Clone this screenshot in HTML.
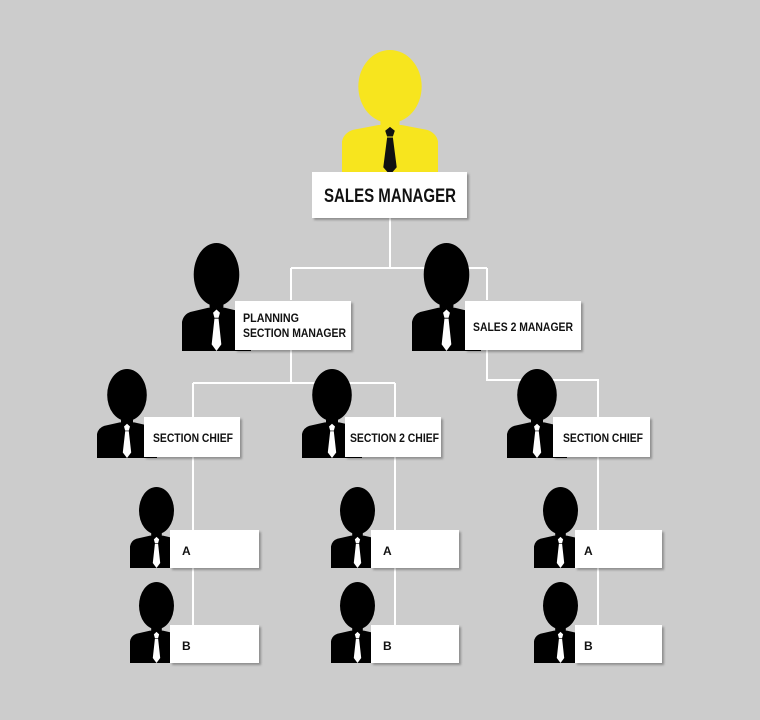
<!DOCTYPE html>
<html><head><style>
body{margin:0;background:#cccccc;}
svg{display:block}
text{font-family:"Liberation Sans Narrow","Liberation Sans",sans-serif;font-weight:bold;fill:#111}
.b{fill:#fff;filter:url(#sh)}
.l{stroke:#fff;stroke-width:2;fill:none}
</style></head><body>
<svg width="760" height="720" viewBox="0 0 760 720" xmlns="http://www.w3.org/2000/svg">
<defs>
<filter id="sh" x="-5%" y="-5%" width="115%" height="125%"><feDropShadow dx="2" dy="2" stdDeviation="1" flood-color="#000" flood-opacity="0.3"/></filter>
<symbol id="p" viewBox="0 0 100 130" preserveAspectRatio="none">
<ellipse cx="50" cy="38" rx="33" ry="38"/>
<rect x="40" y="68" width="20" height="18"/>
<path d="M0,130 L0,95 Q2,86 12,83 L38,78 L62,78 L88,83 Q98,86 100,95 L100,130 Z"/>
</symbol>
<symbol id="t" viewBox="0 0 100 130" preserveAspectRatio="none">
<path d="M45,84 L50,80 L55,84 L53,90 L47,90 Z M47,91 L53,91 L57,122 L50,130 L43,122 Z"/>
</symbol>
</defs>
<path class="l" d="M390,218V268 M291,268H487 M291,268V300 M487,268V300 M291,350V383 M193,383H395 M193,383V417 M395,383V417 M487,350V380H598V417 M193,457V630 M395,457V630 M598,457V630"/>
<use href="#p" x="342" y="50" width="96" height="125" fill="#f7e51e"/>
<use href="#t" x="342" y="50" width="96" height="125" fill="#111"/>
<rect class="b" x="312" y="172" width="155" height="46"/>
<text x="324" y="202" font-size="19" textLength="132" lengthAdjust="spacingAndGlyphs">SALES MANAGER</text>
<g fill="#000">
<use href="#p" x="182" y="243" width="69" height="108"/>
<use href="#p" x="412" y="243" width="69" height="108"/>
<use href="#p" x="97" y="369" width="60" height="89"/>
<use href="#p" x="302" y="369" width="60" height="89"/>
<use href="#p" x="507" y="369" width="60" height="89"/>
<use href="#p" x="130" y="487" width="53" height="81"/>
<use href="#p" x="130" y="582" width="53" height="81"/>
<use href="#p" x="331" y="487" width="53" height="81"/>
<use href="#p" x="331" y="582" width="53" height="81"/>
<use href="#p" x="534" y="487" width="53" height="81"/>
<use href="#p" x="534" y="582" width="53" height="81"/>
</g>
<g fill="#fff">
<use href="#t" x="182" y="243" width="69" height="108"/>
<use href="#t" x="412" y="243" width="69" height="108"/>
<use href="#t" x="97" y="369" width="60" height="89"/>
<use href="#t" x="302" y="369" width="60" height="89"/>
<use href="#t" x="507" y="369" width="60" height="89"/>
<use href="#t" x="130" y="487" width="53" height="81"/>
<use href="#t" x="130" y="582" width="53" height="81"/>
<use href="#t" x="331" y="487" width="53" height="81"/>
<use href="#t" x="331" y="582" width="53" height="81"/>
<use href="#t" x="534" y="487" width="53" height="81"/>
<use href="#t" x="534" y="582" width="53" height="81"/>
</g>
<rect class="b" x="235" y="301" width="116" height="49"/>
<text x="243" y="322" font-size="12" textLength="56" lengthAdjust="spacingAndGlyphs">PLANNING</text>
<text x="243" y="337" font-size="12" textLength="103" lengthAdjust="spacingAndGlyphs">SECTION MANAGER</text>
<rect class="b" x="465" y="301" width="116" height="49"/>
<text x="473" y="331" font-size="12" textLength="100" lengthAdjust="spacingAndGlyphs">SALES 2 MANAGER</text>
<rect class="b" x="144" y="417" width="96" height="40"/>
<text x="153" y="442" font-size="12" textLength="80" lengthAdjust="spacingAndGlyphs">SECTION CHIEF</text>
<rect class="b" x="345" y="417" width="96" height="40"/>
<text x="350" y="442" font-size="12" textLength="89" lengthAdjust="spacingAndGlyphs">SECTION 2 CHIEF</text>
<rect class="b" x="553" y="417" width="97" height="40"/>
<text x="563" y="442" font-size="12" textLength="80" lengthAdjust="spacingAndGlyphs">SECTION CHIEF</text>
<rect class="b" x="170" y="530" width="89" height="38"/><text x="182" y="555" font-size="12">A</text>
<rect class="b" x="170" y="625" width="89" height="38"/><text x="182" y="650" font-size="12">B</text>
<rect class="b" x="371" y="530" width="88" height="38"/><text x="383" y="555" font-size="12">A</text>
<rect class="b" x="371" y="625" width="88" height="38"/><text x="383" y="650" font-size="12">B</text>
<rect class="b" x="575" y="530" width="87" height="38"/><text x="584" y="555" font-size="12">A</text>
<rect class="b" x="575" y="625" width="87" height="38"/><text x="584" y="650" font-size="12">B</text>
</svg>
</body></html>
